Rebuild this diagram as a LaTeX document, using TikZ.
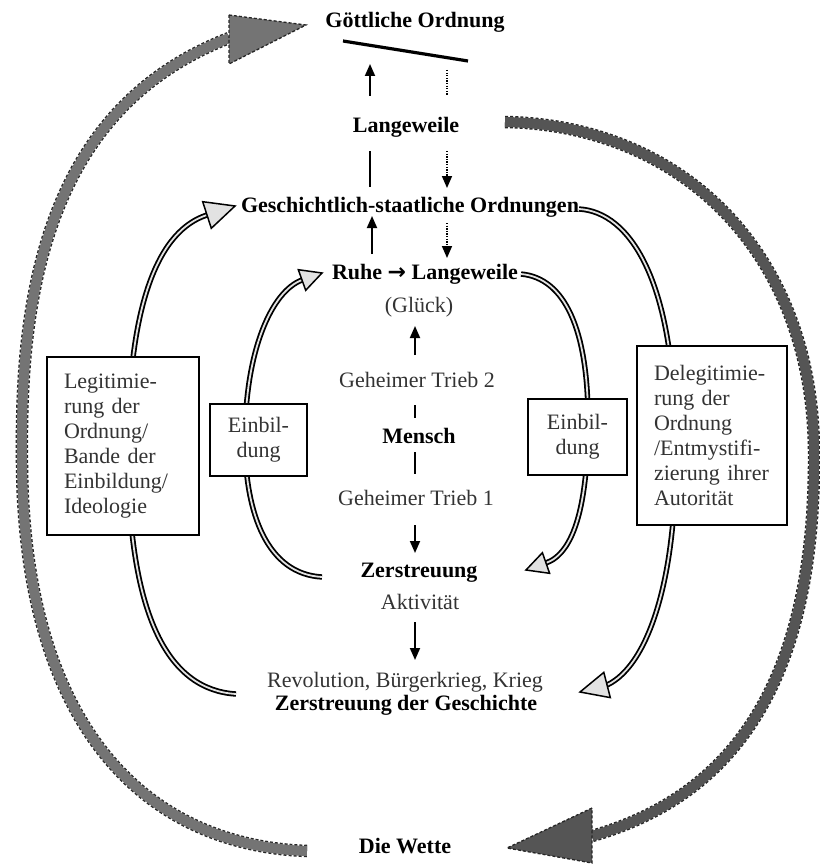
\documentclass[tikz,border=0pt]{standalone}
\usepackage{fontspec}
\setmainfont{Liberation Serif}
\newfontfamily\arrowfont{DejaVu Sans}
\usetikzlibrary{arrows.meta}
\definecolor{txtgray}{HTML}{333333}
\definecolor{gone}{HTML}{747474}
\definecolor{gtwo}{HTML}{555555}
\definecolor{headfill}{HTML}{E2E2E2}
\begin{document}
\begin{tikzpicture}[x=1pt,y=-1pt,
  every node/.style={inner sep=0pt, font=\fontsize{22}{25}\selectfont},
  bt/.style={anchor=base, text=black, font=\fontsize{22}{25}\selectfont\bfseries},
  nt/.style={anchor=base, text=txtgray},
  ln/.style={line width=1.8pt, black},
  arr/.style={ln, -{Triangle[length=12pt,width=10pt]}},
  dotl/.style={line width=1.6pt, dash pattern=on 1.3pt off 1.3pt},
  dotarr/.style={dotl, -{Triangle[length=12pt,width=10pt]}},
  dblcurve/.style={line width=1.8pt, double=headfill, double distance=1.8pt},
  openhead/.style={draw=black, line width=1.5pt, fill=headfill, line join=miter},
  shaftout/.style={line width=12.5pt, black!85, dash pattern=on 3pt off 2pt},
  grayhead/.style={draw=black!85, line width=1.3pt, dash pattern=on 3pt off 2pt, line join=miter},
  boxst/.style={draw=black, line width=1.7pt, fill=white, text=txtgray,
    font=\fontsize{22}{25}\selectfont},
]
\useasboundingbox (0,0) rectangle (819,864);

% ---------- coordinates of free connector ends ----------
\coordinate (g1s) at (307,851);
\coordinate (g1e) at (229,38);
\coordinate (g2s) at (505,122);
\coordinate (g2e) at (592,836);
\coordinate (a1s) at (322,577);
\coordinate (a1e) at (302,280);
\coordinate (a2s) at (521,274);
\coordinate (a2e) at (546,563);
\coordinate (a3s) at (236,694);
\coordinate (a3e) at (207,215);
\coordinate (a4s) at (579,209);
\coordinate (a4e) at (607,685);

% ---------- outer grey dashed arrows ----------
\draw[shaftout] (g1s) .. controls (140,845) and (20,720) .. (22,450)
  .. controls (20,250) and (70,100) .. (g1e);
\draw[line width=10pt, gone] (g1s) .. controls (140,845) and (20,720) .. (22,450)
  .. controls (20,250) and (70,100) .. (g1e);
\draw[grayhead, fill=gone] (229,15) -- (306,25) -- (229,64) -- cycle;

\draw[shaftout] (g2s) .. controls (680,125) and (812,250) .. (814,450)
  .. controls (816,680) and (735,795) .. (g2e);
\draw[line width=10pt, gtwo] (g2s) .. controls (680,125) and (812,250) .. (814,450)
  .. controls (816,680) and (735,795) .. (g2e);
\draw[grayhead, fill=gtwo] (592,808) -- (507,848) -- (592,863) -- cycle;

% ---------- double-line curved arrows ----------
\draw[dblcurve] (a1s) .. controls (268,574) and (245,515) .. (245,440)
  .. controls (245,350) and (272,291) .. (a1e);
\draw[openhead] (298.3,269.7) -- (322,273) -- (305.7,290.3) -- cycle;

\draw[dblcurve] (a2s) .. controls (565,278) and (588,330) .. (588,420)
  .. controls (588,505) and (574,553) .. (a2e);
\draw[openhead] (542.4,552.7) -- (526,570) -- (549.6,573.3) -- cycle;

\draw[dblcurve] (a3s) .. controls (170,690) and (128,620) .. (128,450)
  .. controls (128,300) and (160,230) .. (a3e);
\draw[openhead] (202.7,201.7) -- (235,206) -- (211.3,228.3) -- cycle;

\draw[dblcurve] (a4s) .. controls (630,212) and (673,280) .. (675,430)
  .. controls (680,570) and (650,665) .. (a4e);
\draw[openhead] (603.8,672.4) -- (580,692) -- (610.3,697.6) -- cycle;

% ---------- boxes ----------
\node[boxst, minimum width=152pt, minimum height=178pt, text width=118pt,
  inner xsep=17pt, align=left] (lbox) at (123,446)
  {Legitimie-\\rung der\\Ordnung/\\Bande der\\Einbildung/\\Ideologie};
\node[boxst, minimum width=97pt, minimum height=72pt, align=center]
  (lein) at (258.5,440) {Einbil-\\dung};
\node[boxst, minimum width=99pt, minimum height=76pt, align=center]
  (rein) at (577.5,437) {Einbil-\\dung};
\node[boxst, minimum width=150pt, minimum height=179pt, text width=116pt,
  inner xsep=17pt, align=left] (rbox) at (712,435.5)
  {Delegitimie-\\rung der\\Ordnung\\/Entmystifi-\\zierung ihrer\\Autorität};

% ---------- text nodes ----------
\node[bt] (go)  at (415,28)  {Göttliche Ordnung};
\node[bt] (lw)  at (406,132) {Langeweile};
\node[bt] (gso) at (410,212) {Geschichtlich-staatliche Ordnungen};
\node[bt] (rl)  at (425,279) {Ruhe {\arrowfont\bfseries →} Langeweile};
\node[nt] (gl)  at (419,312) {(Glück)};
\node[nt] (gt2) at (417,387) {Geheimer Trieb 2};
\node[bt] (me)  at (419,443) {Mensch};
\node[nt] (gt1) at (416,505) {Geheimer Trieb 1};
\node[bt] (ze)  at (419,577) {Zerstreuung};
\node[nt] (ak)  at (420,609) {Aktivität};
\node[nt] (rev) at (405,687) {Revolution, Bürgerkrieg, Krieg};
\node[bt] (zg)  at (406,710) {Zerstreuung der Geschichte};
\node[bt] (dw)  at (405,853) {Die Wette};

% ---------- straight connectors ----------
\coordinate (t1) at (343,41);  \coordinate (t2) at (468,61);
\draw[line width=3.2pt] (t1) -- (t2);
\coordinate (u1a) at (370,96);  \coordinate (u1b) at (370,64);
\draw[arr] (u1a) -- (u1b);
\coordinate (d1a) at (447,70);  \coordinate (d1b) at (447,95);
\draw[dotl] (d1a) -- (d1b);
\coordinate (u2a) at (370,151); \coordinate (u2b) at (370,187);
\draw[ln] (u2a) -- (u2b);
\coordinate (d2a) at (447,151); \coordinate (d2b) at (447,188);
\draw[dotarr] (d2a) -- (d2b);
\coordinate (u3a) at (372,254); \coordinate (u3b) at (372,216);
\draw[arr] (u3a) -- (u3b);
\coordinate (d3a) at (447,223); \coordinate (d3b) at (447,258);
\draw[dotarr] (d3a) -- (d3b);
\coordinate (u4a) at (415,355); \coordinate (u4b) at (415,326);
\draw[arr] (u4a) -- (u4b);
\coordinate (m1a) at (415,405); \coordinate (m1b) at (415,418);
\draw[ln] (m1a) -- (m1b);
\coordinate (m2a) at (415,452); \coordinate (m2b) at (415,474);
\draw[ln] (m2a) -- (m2b);
\coordinate (v1a) at (415,525); \coordinate (v1b) at (415,553);
\draw[arr] (v1a) -- (v1b);
\coordinate (v2a) at (415,622); \coordinate (v2b) at (415,660);
\draw[arr] (v2a) -- (v2b);
\end{tikzpicture}
\end{document}
